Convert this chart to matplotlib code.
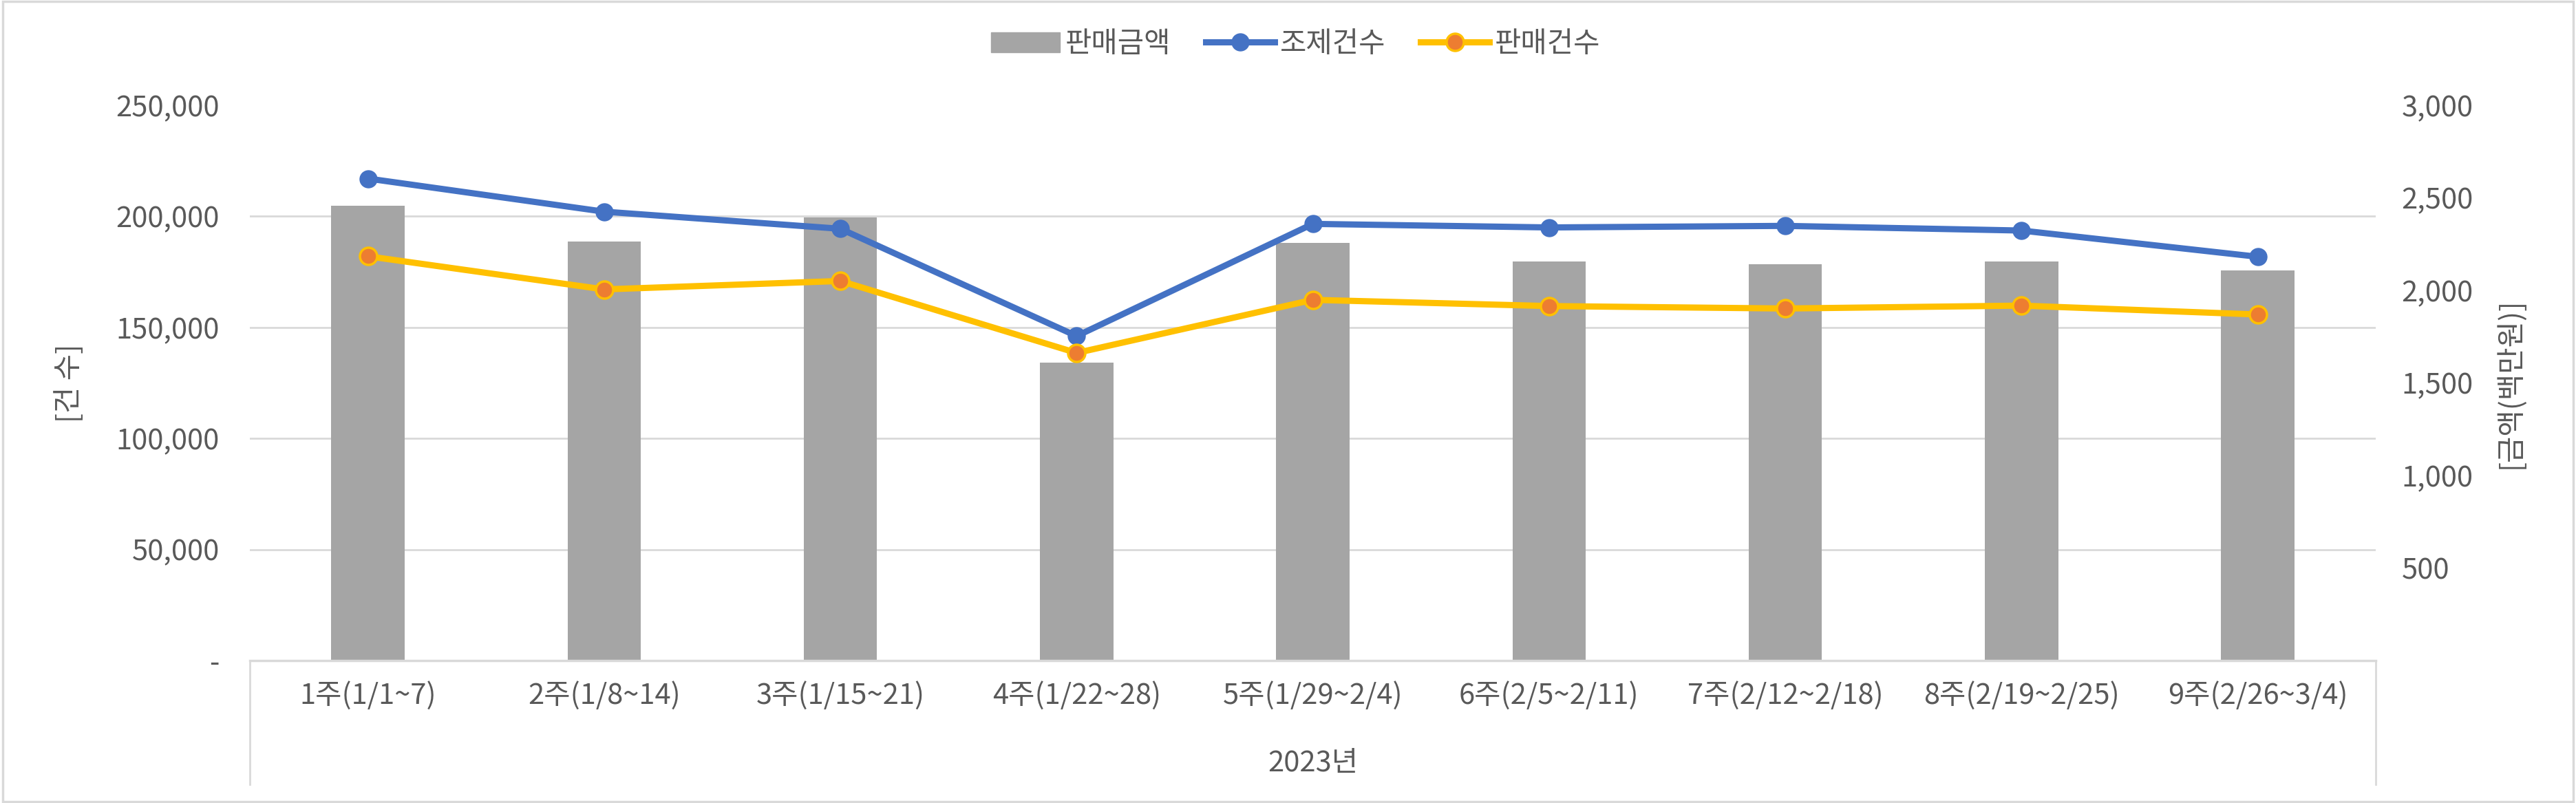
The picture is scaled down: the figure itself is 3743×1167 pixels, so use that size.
import matplotlib.pyplot as plt
from matplotlib.patches import Rectangle, Patch
from matplotlib.lines import Line2D
from matplotlib.ticker import FuncFormatter

plt.rcParams['font.family'] = ['Noto Sans CJK KR', 'DejaVu Sans']

# data
weeks = ['1주(1/1~7)', '2주(1/8~14)', '3주(1/15~21)', '4주(1/22~28)', '5주(1/29~2/4)',
         '6주(2/5~2/11)', '7주(2/12~2/18)', '8주(2/19~2/25)', '9주(2/26~3/4)']
sales_amount = [2457, 2265, 2395, 1610, 2258, 2157, 2143, 2156, 2109]   # 판매금액 (백만원)
dispense_count = [217000, 202100, 194400, 146100, 196600, 195000, 195700, 193600, 181800]  # 조제건수
sales_count = [182000, 167100, 170900, 138500, 162400, 159600, 158500, 159800, 155800]     # 판매건수

left_ticks = [0, 50000, 100000, 150000, 200000, 250000]
right_ticks = [500, 1000, 1500, 2000, 2500, 3000]
left_max = 250000
right_max = 3000

text_col = '#595959'
grid_col = '#D9D9D9'
fs = 30
lw = 6.5
ms = 18

fig = plt.figure(figsize=(37.43, 11.67), dpi=100)
ax = fig.add_axes([0.097, 0.1774, 0.8253, 0.6915])
ax2 = ax.twinx()

# lines above bars
ax.set_zorder(2)
ax.patch.set_visible(False)

x = list(range(len(weeks)))

# bars on right axis
ax2.bar(x, sales_amount, width=0.31, color='#A5A5A5', zorder=2)
ax2.set_ylim(0, right_max)
ax2.set_yticks(right_ticks)
ax2.set_yticklabels([f'{v:,}' for v in right_ticks])
# gridlines follow the left axis ticks
ax2.set_yticks([t * right_max / left_max for t in left_ticks], minor=True)
ax2.grid(which='minor', axis='y', color=grid_col, lw=2)
ax2.set_axisbelow(True)
ax2.tick_params(axis='y', which='both', length=0, labelsize=fs, labelcolor=text_col, pad=27)
ax2.set_ylabel('[금액(백만원)]', rotation=90, fontsize=fs, color=text_col, labelpad=23)

# lines on left axis
ax.plot(x, dispense_count, color='#4472C4', lw=lw, marker='o', ms=ms,
        mfc='#4472C4', mec='#4472C4', solid_capstyle='round')
ax.plot(x, sales_count, color='#FFC000', lw=lw, marker='o', ms=ms,
        mfc='#ED7D31', mec='#FFC000', mew=2.5, solid_capstyle='round')
ax.set_ylim(0, left_max)
ax.set_yticks(left_ticks)
ax.yaxis.set_major_formatter(FuncFormatter(lambda v, p: '-' if v == 0 else f'{int(v):,}'))
ax.tick_params(axis='y', length=0, labelsize=fs, labelcolor=text_col, pad=32)
ax.set_ylabel('[건 수]', fontsize=fs, color=text_col, labelpad=33)

ax.set_xlim(-0.5, len(weeks) - 0.5)
ax.set_xticks(x)
ax.set_xticklabels(weeks)
ax.tick_params(axis='x', length=0, labelsize=fs, labelcolor=text_col, pad=22)

for a in (ax, ax2):
    for s in ('left', 'right', 'top', 'bottom'):
        a.spines[s].set_visible(False)

# category axis box
ax.axhline(0, color=grid_col, lw=2.5, clip_on=False, zorder=3)
for xv in (-0.5, len(weeks) - 0.5):
    ax.axvline(xv, ymin=-0.223, ymax=0, color=grid_col, lw=2, clip_on=False)

fig.text(0.5097, 0.049, '2023년', ha='center', va='center', fontsize=fs, color=text_col)

handles = [Patch(color='#A5A5A5'),
           Line2D([], [], color='#4472C4', lw=lw, marker='o', ms=ms, mfc='#4472C4', mec='#4472C4'),
           Line2D([], [], color='#FFC000', lw=lw, marker='o', ms=ms, mfc='#ED7D31', mec='#FFC000', mew=2.5)]
fig.legend(handles, ['판매금액', '조제건수', '판매건수'], loc='center', bbox_to_anchor=(0.503, 0.945),
           ncol=3, frameon=False, fontsize=fs, labelcolor=text_col, handlelength=2.4,
           handletextpad=0.2, columnspacing=1.2)

fig.patches.append(Rectangle((0.001, 0.002), 0.998, 0.996, transform=fig.transFigure,
                             fill=False, edgecolor=grid_col, lw=2.5))

fig.savefig('out.png', dpi=100, facecolor='white')
